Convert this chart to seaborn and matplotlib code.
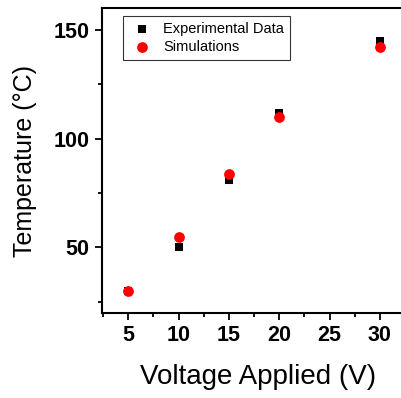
import matplotlib
matplotlib.use("Agg")
import matplotlib.pyplot as plt
import seaborn as sns
import pandas as pd
from matplotlib.ticker import MultipleLocator

# data
voltage = [5, 10, 15, 20, 30]
temp_exp = [30, 50, 81, 112, 145]
temp_sim = [30, 55, 84, 110, 142]

sns.set_style("ticks")
plt.rcParams["font.family"] = ["Liberation Sans", "DejaVu Sans"]
plt.rcParams["text.color"] = "black"
plt.rcParams["axes.labelcolor"] = "black"
plt.rcParams["xtick.color"] = "black"
plt.rcParams["ytick.color"] = "black"

df = pd.DataFrame({
    "Voltage": voltage * 2,
    "Temperature": temp_exp + temp_sim,
    "Series": ["Experimental Data"] * len(voltage) + ["Simulations"] * len(voltage),
})

fig = plt.figure(figsize=(4.01, 3.98), dpi=100)
ax = fig.add_axes([0.2544, 0.2143, 0.7456, 0.7647])

sns.scatterplot(
    data=df[df["Series"] == "Experimental Data"], x="Voltage", y="Temperature",
    marker="s", color="black", s=36, linewidth=0, ax=ax, label="Experimental Data",
)
sns.scatterplot(
    data=df[df["Series"] == "Simulations"], x="Voltage", y="Temperature",
    marker="o", color="red", s=60, linewidth=0, ax=ax, label="Simulations",
)

ax.set_xlim(2.4, 32.1)
ax.set_ylim(20, 160)
ax.set_xticks([5, 10, 15, 20, 25, 30])
ax.set_yticks([50, 100, 150])
ax.xaxis.set_minor_locator(MultipleLocator(2.5))
ax.yaxis.set_minor_locator(MultipleLocator(25))
ax.tick_params(axis="both", which="major", direction="out", length=5, width=1.3,
               labelsize=15.5, pad=4)
ax.tick_params(axis="both", which="minor", direction="out", length=3, width=1.3)
for lbl in ax.get_xticklabels() + ax.get_yticklabels():
    lbl.set_fontweight("bold")

for side in ["left", "bottom", "top"]:
    ax.spines[side].set_linewidth(1.5)
    ax.spines[side].set_color("black")
ax.spines["right"].set_visible(False)

ax.set_xlabel("Voltage Applied (V)", fontsize=20)
ax.xaxis.set_label_coords(0.522, -0.17, transform=ax.transAxes)
ax.xaxis.label.set_verticalalignment("top")
ax.set_ylabel("Temperature (°C)", fontsize=18, labelpad=12)

leg = ax.legend(loc="upper left", bbox_to_anchor=(0.07, 0.975), fontsize=10.5,
                frameon=True, fancybox=False, edgecolor="black", borderaxespad=0,
                handlelength=1.8, handletextpad=0.55, borderpad=0.4,
                labelspacing=0.3)
leg.get_frame().set_linewidth(0.8)

fig.savefig("out.png", dpi=100)
